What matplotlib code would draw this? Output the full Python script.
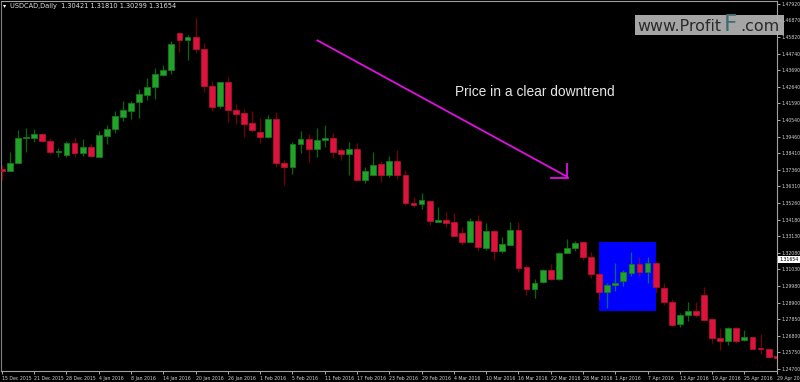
import matplotlib
matplotlib.use("Agg")
import matplotlib.pyplot as plt
from matplotlib.patches import Rectangle
from matplotlib import font_manager

# ---- data (USDCAD daily, 15 Dec 2015 .. 29 Apr 2016) ----
opens = [1.37422, 1.37295, 1.37804, 1.39394, 1.39394, 1.39649, 1.39204, 1.38504, 1.38313, 1.39076,
         1.38440, 1.38822, 1.38186, 1.39522, 1.39967, 1.40731, 1.41112, 1.41685, 1.42130, 1.42639,
         1.43403, 1.43721, 1.46075, 1.45629, 1.45820, 1.45057, 1.42703, 1.41430, 1.42957, 1.41176,
         1.40985, 1.40349, 1.39776, 1.39458, 1.40603, 1.37804, 1.37550, 1.39013, 1.39331, 1.38695,
         1.39267, 1.39394, 1.38631, 1.38377, 1.38695, 1.36722, 1.37041, 1.37740, 1.37041, 1.37931,
         1.37041, 1.35259, 1.35196, 1.35386, 1.34050, 1.34178, 1.34050, 1.33351, 1.32778, 1.34114,
         1.32396, 1.33478, 1.32205, 1.32587, 1.33541, 1.31188, 1.29788, 1.30233, 1.30997, 1.30424,
         1.32078, 1.32396, 1.32778, 1.31824, 1.30742, 1.29597, 1.30042, 1.30297, 1.30806, 1.31378,
         1.30869, 1.31442, 1.29851, 1.28961, 1.27561, 1.28134, 1.28388, 1.29406, 1.27879, 1.26670,
         1.26480, 1.27307, 1.26543, 1.26734, 1.26034, 1.25971, 1.25525]
highs = [1.37677, 1.38504, 1.39903, 1.40031, 1.39967, 1.39713, 1.39394, 1.38758, 1.39204, 1.39458,
         1.39331, 1.39013, 1.39840, 1.40222, 1.41112, 1.41748, 1.41748, 1.42512, 1.43212, 1.43848,
         1.44039, 1.45566, 1.46138, 1.45947, 1.47029, 1.45438, 1.43021, 1.42957, 1.43275, 1.41558,
         1.41239, 1.41112, 1.40667, 1.40858, 1.41049, 1.37995, 1.39140, 1.39840, 1.39649, 1.40031,
         1.40222, 1.39713, 1.38758, 1.39140, 1.39076, 1.37550, 1.38504, 1.37931, 1.38249, 1.38631,
         1.37359, 1.35641, 1.35895, 1.35450, 1.35005, 1.34687, 1.34623, 1.33732, 1.34305, 1.34496,
         1.33987, 1.33541, 1.33096, 1.34050, 1.34050, 1.31315, 1.30424, 1.31060, 1.31378, 1.32142,
         1.32969, 1.32842, 1.32842, 1.32142, 1.30806, 1.30170, 1.31442, 1.30997, 1.32142, 1.31824,
         1.31824, 1.31506, 1.30170, 1.29152, 1.28261, 1.28961, 1.28961, 1.29915, 1.27943, 1.27307,
         1.27370, 1.27370, 1.27179, 1.26734, 1.26925, 1.26034, 1.25780]
lows = [1.36722, 1.37295, 1.37804, 1.38504, 1.39140, 1.39140, 1.38377, 1.38186, 1.38186, 1.38186,
        1.38249, 1.38186, 1.38186, 1.39013, 1.39713, 1.40476, 1.40603, 1.40667, 1.41812, 1.41876,
        1.43339, 1.43466, 1.44866, 1.44357, 1.44802, 1.42321, 1.41112, 1.41303, 1.40412, 1.40285,
        1.39458, 1.39776, 1.39076, 1.39394, 1.37550, 1.36404, 1.37104, 1.38440, 1.37868, 1.38186,
        1.38822, 1.38122, 1.37995, 1.37041, 1.36659, 1.36532, 1.37041, 1.36595, 1.36913, 1.36786,
        1.35132, 1.35005, 1.34877, 1.33860, 1.34050, 1.33732, 1.33160, 1.32587, 1.32778, 1.32205,
        1.32269, 1.31633, 1.32078, 1.32587, 1.30869, 1.29406, 1.29215, 1.30170, 1.30360, 1.30360,
        1.32078, 1.32205, 1.31633, 1.30488, 1.29088, 1.28579, 1.29661, 1.29979, 1.30615, 1.30615,
        1.30170, 1.29533, 1.28770, 1.27434, 1.27370, 1.27752, 1.28007, 1.27752, 1.26352, 1.25907,
        1.26225, 1.26352, 1.26480, 1.25971, 1.25653, 1.25398, 1.24698]
closes = [1.37295, 1.37804, 1.39394, 1.39458, 1.39649, 1.39204, 1.38504, 1.38567, 1.39076, 1.38440,
          1.38822, 1.38249, 1.39585, 1.39967, 1.40794, 1.41176, 1.41621, 1.42194, 1.42639, 1.43466,
          1.43721, 1.45375, 1.45629, 1.45820, 1.45057, 1.42703, 1.41367, 1.42957, 1.41176, 1.40921,
          1.40285, 1.39903, 1.39458, 1.40603, 1.37804, 1.37550, 1.39013, 1.39331, 1.38695, 1.39267,
          1.39394, 1.38504, 1.38377, 1.38695, 1.36722, 1.37295, 1.37677, 1.37041, 1.37931, 1.37041,
          1.35259, 1.35132, 1.35450, 1.34114, 1.34178, 1.33987, 1.33160, 1.32778, 1.34114, 1.32460,
          1.33478, 1.32205, 1.32651, 1.33541, 1.31124, 1.29788, 1.30170, 1.30997, 1.30424, 1.32078,
          1.32396, 1.32714, 1.31824, 1.30742, 1.29597, 1.30042, 1.30170, 1.30869, 1.31378, 1.30869,
          1.31442, 1.29915, 1.28961, 1.27498, 1.28134, 1.28388, 1.28134, 1.27816, 1.26670, 1.26480,
          1.27307, 1.26480, 1.26734, 1.25971, 1.25971, 1.25462, 1.25398]

date_labels = ["15 Dec 2015", "21 Dec 2015", "28 Dec 2015", "4 Jan 2016", "8 Jan 2016",
               "14 Jan 2016", "20 Jan 2016", "26 Jan 2016", "1 Feb 2016", "5 Feb 2016",
               "11 Feb 2016", "17 Feb 2016", "23 Feb 2016", "29 Feb 2016", "4 Mar 2016",
               "10 Mar 2016", "16 Mar 2016", "22 Mar 2016", "28 Mar 2016", "1 Apr 2016",
               "7 Apr 2016", "13 Apr 2016", "19 Apr 2016", "25 Apr 2016", "29 Apr 2016"]
date_label_step = 4

price_ticks = [1.47920, 1.46870, 1.45820, 1.44740, 1.43690, 1.42640, 1.41590, 1.40540,
               1.39460, 1.38410, 1.37360, 1.36310, 1.35260, 1.34180, 1.33130, 1.32080,
               1.31030, 1.29980, 1.28900, 1.27850, 1.26800, 1.25750, 1.24700]
current_price = 1.31654
header = "USDCAD,Daily  1.30421 1.31810 1.30299 1.31654"
annotation = "Price in a clear downtrend"

# highlighted zone (bar index range, price range)
zone_bars = (73.98, 81.05)
zone_prices = (1.28388, 1.32778)
# trend arrow (bar index, price)
arrow_start = (39.0, 1.45630)
arrow_end = (70.1, 1.36913)

# small axis font: a narrow sans if available
names = {f.name for f in font_manager.fontManager.ttflist}
small_fam = ["Liberation Sans Narrow", "DejaVu Sans"] if "Liberation Sans Narrow" in names \
    else ["DejaVu Sans"]
small_size = 4.2 if "Liberation Sans Narrow" in names else 3.3

# ---- figure ----
W, H = 800, 382
fig = plt.figure(figsize=(W / 100, H / 100), dpi=100, facecolor="black")
ax = fig.add_axes([1 / W, 11 / H, 776 / W, 370 / H], facecolor="black")
ax.set_xlim(-0.115, 96.04)
ax.set_ylim(1.24571, 1.48110)

up_body, up_edge, up_wick = "#22a22a", "#157a15", (0.05, 0.75, 0.05, 0.55)
dn_body, dn_edge, dn_wick = "#dc143c", "#b01030", (0.85, 0.0, 0.05, 0.55)
bw = 0.72
min_h = 0.0007

for i, (o, h, l, c) in enumerate(zip(opens, highs, lows, closes)):
    up = c >= o
    ax.vlines(i, l, h, colors=[up_wick if up else dn_wick], linewidth=0.9, zorder=3)
    bot = min(o, c)
    hgt = max(abs(c - o), min_h)
    if abs(c - o) < min_h:
        bot = (o + c) / 2 - min_h / 2
    ax.add_patch(Rectangle((i - bw / 2, bot), bw, hgt,
                           facecolor=up_body if up else dn_body,
                           edgecolor=up_edge if up else dn_edge,
                           linewidth=0.6, zorder=4))

# blue zone
ax.add_patch(Rectangle((zone_bars[0], zone_prices[0]), zone_bars[1] - zone_bars[0],
                       zone_prices[1] - zone_prices[0], facecolor="#0000ff",
                       edgecolor="none", zorder=1))

# arrow line and head
ax.plot([arrow_start[0], arrow_end[0]], [arrow_start[1], arrow_end[1]],
        color="#e010e0", linewidth=1.3, zorder=5, solid_capstyle="butt")
ax.plot([arrow_end[0] - 0.1, arrow_end[0] - 0.1], [arrow_end[1], arrow_end[1] + 0.0080],
        color="#e010e0", linewidth=1.3, zorder=5)
ax.plot([arrow_end[0] - 2.1, arrow_end[0]], [arrow_end[1] - 0.0006, arrow_end[1] - 0.0006],
        color="#e010e0", linewidth=1.3, zorder=5)

ax.text(56.1, 1.42090, annotation, color="#e6e6e6", fontsize=9.9,
        family="Liberation Sans", ha="left", va="baseline", zorder=6)

# axes styling
for s in ax.spines.values():
    s.set_color("#a0a0a0")
    s.set_linewidth(0.8)
ax.spines["left"].set_color("#808080")
ax.yaxis.tick_right()
ax.set_yticks(price_ticks)
ax.set_yticklabels([f"{p:.5f}" for p in price_ticks], family=small_fam)
ax.tick_params(axis="y", colors="#c8c8c8", labelsize=small_size, length=2.5, width=0.6,
               pad=1.0, labelcolor="#d0d0d0")
xt = list(range(0, len(opens), date_label_step))
ax.set_xticks(xt)
ax.set_xticklabels(date_labels[:len(xt)], ha="left", family=small_fam)
ax.tick_params(axis="x", colors="#c8c8c8", labelsize=small_size, length=2.5, width=0.6,
               pad=1.0, labelcolor="#d0d0d0")

# current price box
ax.text(1.003, current_price, f"{current_price:.5f}", transform=ax.get_yaxis_transform(),
        fontsize=small_size, family=small_fam, color="black", ha="left", va="center",
        zorder=7, clip_on=False,
        bbox=dict(boxstyle="square,pad=0.25", facecolor="white", edgecolor="none"))

# header
fig.text(3 / W, 1 - 6 / H, "\u25be", color="white", fontsize=4.5, ha="left", va="center")
fig.text(10 / W, 1 - 6 / H, header, color="#e0e0e0", fontsize=4.8, ha="left", va="center")

# watermark
fig.patches.append(Rectangle((635 / W, 1 - 35 / H), 149 / W, 20 / H,
                             transform=fig.transFigure, facecolor="#b4b4b4",
                             edgecolor="none", alpha=0.92, zorder=8))
fig.text(637 / W, 1 - 31 / H, "www.Profit", color="#2a2a2a", fontsize=11.4,
         family="DejaVu Sans", ha="left", va="baseline", zorder=9)
fig.text(724 / W, 1 - 31 / H, "F", color="#3d6b70", fontsize=16.8,
         family="DejaVu Sans", ha="left", va="baseline", zorder=9)
fig.text(740 / W, 1 - 31 / H, ".com", color="#2a2a2a", fontsize=11.4,
         family="DejaVu Sans", ha="left", va="baseline", zorder=9)

fig.savefig("out.png", dpi=100, facecolor="black")
